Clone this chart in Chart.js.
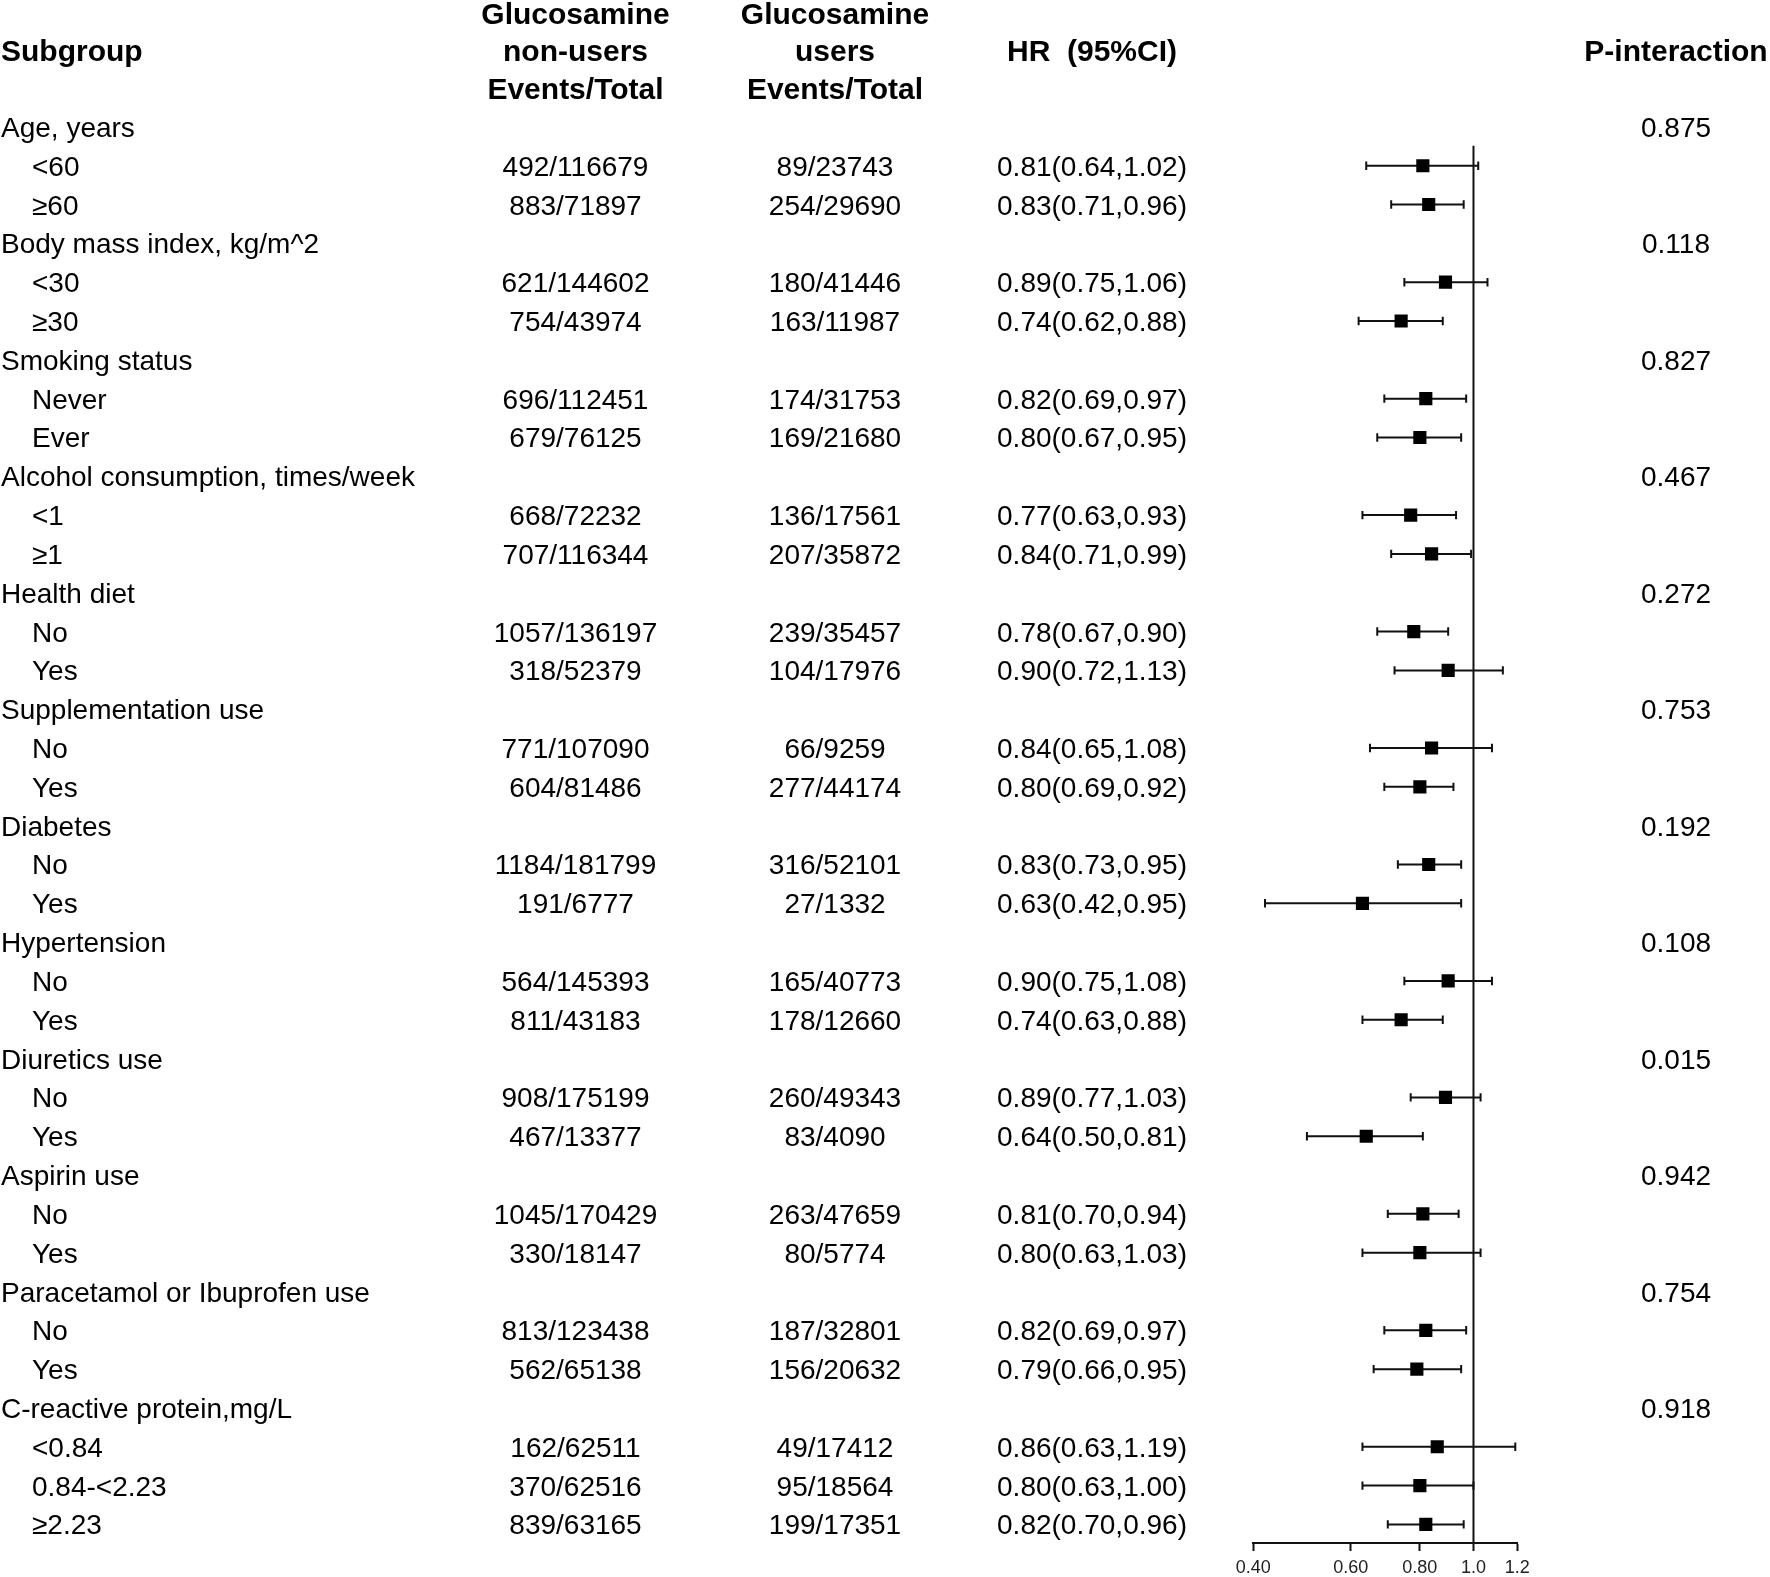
<!DOCTYPE html>
<html>
<head>
<meta charset="utf-8">
<script src="https://cdn.jsdelivr.net/npm/chart.js@4/dist/chart.umd.min.js"></script>
<style>
  html, body { margin: 0; padding: 0; background: #fff; }
  canvas { display: block; }
</style>
</head>
<body>
<canvas id="chart" width="1770" height="1577"></canvas>
<script>
// ---- data ----
const rowLabels = [
  'Age, years', '<60', '≥60',
  'Body mass index, kg/m^2', '<30', '≥30',
  'Smoking status', 'Never', 'Ever',
  'Alcohol consumption, times/week', '<1', '≥1',
  'Health diet', 'No', 'Yes',
  'Supplementation use', 'No', 'Yes',
  'Diabetes', 'No', 'Yes',
  'Hypertension', 'No', 'Yes',
  'Diuretics use', 'No', 'Yes',
  'Aspirin use', 'No', 'Yes',
  'Paracetamol or Ibuprofen use', 'No', 'Yes',
  'C-reactive protein,mg/L', '<0.84', '0.84-<2.23', '≥2.23'
];
const nonUsers = [
  '', '492/116679', '883/71897',
  '', '621/144602', '754/43974',
  '', '696/112451', '679/76125',
  '', '668/72232', '707/116344',
  '', '1057/136197', '318/52379',
  '', '771/107090', '604/81486',
  '', '1184/181799', '191/6777',
  '', '564/145393', '811/43183',
  '', '908/175199', '467/13377',
  '', '1045/170429', '330/18147',
  '', '813/123438', '562/65138',
  '', '162/62511', '370/62516', '839/63165'
];
const users = [
  '', '89/23743', '254/29690',
  '', '180/41446', '163/11987',
  '', '174/31753', '169/21680',
  '', '136/17561', '207/35872',
  '', '239/35457', '104/17976',
  '', '66/9259', '277/44174',
  '', '316/52101', '27/1332',
  '', '165/40773', '178/12660',
  '', '260/49343', '83/4090',
  '', '263/47659', '80/5774',
  '', '187/32801', '156/20632',
  '', '49/17412', '95/18564', '199/17351'
];
const hr = [
  null, 0.81, 0.83, null, 0.89, 0.74, null, 0.82, 0.80, null, 0.77, 0.84,
  null, 0.78, 0.90, null, 0.84, 0.80, null, 0.83, 0.63, null, 0.90, 0.74,
  null, 0.89, 0.64, null, 0.81, 0.80, null, 0.82, 0.79, null, 0.86, 0.80, 0.82
];
const ciLow = [
  null, 0.64, 0.71, null, 0.75, 0.62, null, 0.69, 0.67, null, 0.63, 0.71,
  null, 0.67, 0.72, null, 0.65, 0.69, null, 0.73, 0.42, null, 0.75, 0.63,
  null, 0.77, 0.50, null, 0.70, 0.63, null, 0.69, 0.66, null, 0.63, 0.63, 0.70
];
const ciHigh = [
  null, 1.02, 0.96, null, 1.06, 0.88, null, 0.97, 0.95, null, 0.93, 0.99,
  null, 0.90, 1.13, null, 1.08, 0.92, null, 0.95, 0.95, null, 1.08, 0.88,
  null, 1.03, 0.81, null, 0.94, 1.03, null, 0.97, 0.95, null, 1.19, 1.00, 0.96
];
const pInteraction = [
  '0.875', '', '', '0.118', '', '', '0.827', '', '', '0.467', '', '',
  '0.272', '', '', '0.753', '', '', '0.192', '', '', '0.108', '', '',
  '0.015', '', '', '0.942', '', '', '0.754', '', '', '0.918', '', '', ''
];
const xTicks = [0.4, 0.6, 0.8, 1.0, 1.2];
const xTickLabels = ['0.40', '0.60', '0.80', '1.0', '1.2'];
const headNonUsers = ['Glucosamine', 'non-users', 'Events/Total'];
const headUsers = ['Glucosamine', 'users', 'Events/Total'];

// ---- layout ----
const FONT = '"Liberation Sans", Arial, Helvetica, sans-serif';
const rowTop = 126.9;      // pixel of first row
const rowStep = 38.82;     // pixel per row
const plotBottom = 1543;   // x axis line
const yMin = -rowTop / rowStep;
const yMax = yMin + plotBottom / rowStep;
const headY = [13, 50.5, 88.5];
const colNonUsers = 575.5, colUsers = 835, colHR = 1092, colP = 1676;

// ---- build datasets from the arrays ----
const whiskers = [], caps = [], points = [];
hr.forEach((v, i) => {
  if (v === null) return;
  whiskers.push({ x: ciLow[i], y: i }, { x: ciHigh[i], y: i }, { x: null, y: null });
  caps.push({ x: ciLow[i], y: i }, { x: ciHigh[i], y: i });
  points.push({ x: v, y: i });
});

const hrText = i => hr[i].toFixed(2) + '(' + ciLow[i].toFixed(2) + ',' + ciHigh[i].toFixed(2) + ')';

const tablePlugin = {
  id: 'forestTable',
  afterDraw(chart) {
    const ctx = chart.ctx;
    const ys = chart.scales.y;
    ctx.save();
    ctx.fillStyle = '#000';
    ctx.textBaseline = 'alphabetic';

    // header
    ctx.font = 'bold 30px ' + FONT;
    const hb = y => y + 10.7;
    ctx.textAlign = 'left';
    ctx.fillText('Subgroup', 1, hb(headY[1]));
    ctx.textAlign = 'center';
    headNonUsers.forEach((t, k) => ctx.fillText(t, colNonUsers, hb(headY[k])));
    headUsers.forEach((t, k) => ctx.fillText(t, colUsers, hb(headY[k])));
    ctx.fillText('HR  (95%CI)', colHR, hb(headY[1]));
    ctx.fillText('P-interaction', colP, hb(headY[1]));

    // rows
    ctx.font = '28px ' + FONT;
    rowLabels.forEach((label, i) => {
      const y = ys.getPixelForValue(i) + 10;
      ctx.textAlign = 'left';
      ctx.fillText(label, hr[i] === null ? 1 : 32, y);
      ctx.textAlign = 'center';
      if (nonUsers[i]) ctx.fillText(nonUsers[i], colNonUsers, y);
      if (users[i]) ctx.fillText(users[i], colUsers, y);
      if (hr[i] !== null) ctx.fillText(hrText(i), colHR, y);
      if (pInteraction[i]) ctx.fillText(pInteraction[i], colP, y);
    });
    ctx.restore();
  }
};

const ctx = document.getElementById('chart').getContext('2d');
const chart = new Chart(ctx, {
  type: 'scatter',
  data: {
    datasets: [
      {
        label: 'HR',
        data: points,
        pointStyle: 'rect',
        pointRadius: 9.3,
        pointBorderWidth: 0,
        backgroundColor: '#000',
        borderColor: '#000',
        order: 0
      },
      {
        label: 'caps',
        data: caps,
        pointStyle: 'line',
        rotation: 90,
        pointRadius: 4.2,
        borderWidth: 2,
        borderColor: '#111',
        order: 1
      },
      {
        label: 'CI',
        data: whiskers,
        showLine: true,
        spanGaps: false,
        pointRadius: 0,
        borderWidth: 2,
        borderColor: '#111',
        order: 2
      },
      {
        label: 'ref',
        data: [{ x: 1, y: 0.484 }, { x: 1, y: yMax }],
        showLine: true,
        pointRadius: 0,
        borderWidth: 2,
        borderColor: '#111',
        order: 3
      }
    ]
  },
  options: {
    responsive: false,
    devicePixelRatio: 1,
    animation: false,
    layout: {
      autoPadding: false,
      padding: { left: 1253.3, right: 1770 - 1517.3, top: 0, bottom: 0 }
    },
    plugins: { legend: { display: false }, tooltip: { enabled: false } },
    scales: {
      x: {
        type: 'logarithmic',
        position: 'bottom',
        min: 0.4,
        max: 1.2,
        afterBuildTicks: s => { s.ticks = xTicks.map(v => ({ value: v })); },
        afterFit: s => { s.height = 34; },
        ticks: {
          autoSkip: false,
          maxRotation: 0,
          padding: 6,
          color: '#222',
          font: { family: FONT, size: 18 },
          callback: v => xTickLabels[xTicks.indexOf(v)]
        },
        grid: {
          drawOnChartArea: false,
          drawTicks: true,
          tickLength: 8,
          tickWidth: 2,
          tickColor: '#111'
        },
        border: { display: true, color: '#111', width: 2 }
      },
      y: {
        type: 'linear',
        reverse: true,
        min: yMin,
        max: yMax,
        display: false
      }
    }
  },
  plugins: [tablePlugin]
});
</script>
</body>
</html>
